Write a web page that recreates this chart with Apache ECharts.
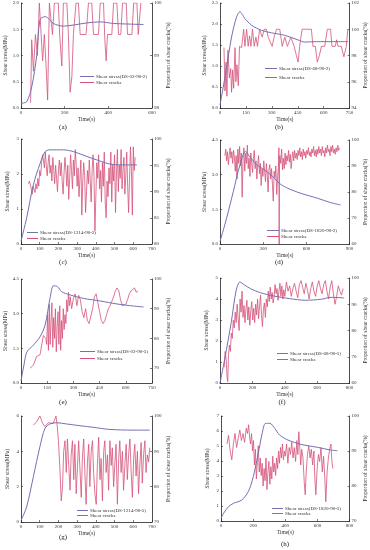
<!DOCTYPE html>
<html><head><meta charset="utf-8">
<script src="https://cdn.jsdelivr.net/npm/echarts@6/dist/echarts.min.js"></script>
<style>html,body{margin:0;padding:0;background:#fff}#c{width:370px;height:550px}</style>
</head><body><div id="c"></div>
<script>
// ---------- DATA ----------
const stressNames = ['Shear stress(DS-02-90-2)','Shear stress(DS-68-90-2)','Shear stress(DS-1214-90-2)','Shear stress(DS-1820-90-2)','Shear stress(DS-02-90-5)','Shear stress(DS-68-90-5)','Shear stress(DS-1214-90-5)','Shear stress(DS-1820-90-5)'];
const crackName = 'Shear cracks';
const captions = ['(a)','(b)','(c)','(d)','(e)','(f)','(g)','(h)'];

const stressA = [[0,0.09],[26,0.12],[49,0.4],[72,1.0],[87,1.68],[110,1.74],[125,1.71],[148,1.61],[194,1.56],[240,1.58],[300,1.62],[363,1.64],[424,1.61],[485,1.6],[561,1.59]];
const cracksA = [[44,98.1],[49,99.3],[57,98.7],[66,99.4],[75,99.0],[84,100],[93,100],[99,98.9],[107,99.4],[115,98.8],[122,98.15],[130,100],[138,100],[144,99.4],[153,100],[171,100],[177,99.4],[187,98.8],[194,100],[210,100],[217,99.4],[225,98.3],[233,98.6],[240,99.4],[252,100],[263,100],[271,99.4],[298,99.4],[309,100],[324,100],[332,99.4],[355,99.4],[363,100],[378,100],[384,99.3],[390,98.9],[396,99.4],[416,99.4],[424,100],[439,100],[447,99.4],[457,99.4],[465,100],[482,100],[488,99.4],[508,99.4],[516,100],[531,100],[537,99.4],[543,99.4],[549,100]];

const stressB = [[0,0.07],[29,0.74],[67,1.69],[96,2.17],[115,2.29],[144,2.13],[183,1.97],[240,1.85],[298,1.79],[375,1.73],[452,1.62],[490,1.57],[560,1.58],[740,1.58]];
const cracksB = [[23,98.6],[29,95.3],[35,97.5],[40,94.9],[46,98.4],[54,96.3],[62,97.0],[67,95.2],[73,96.9],[79,95.5],[87,98.6],[92,96.0],[98,97.3],[106,95.7],[113,98.7],[125,98.6],[137,100],[144,98.7],[154,100],[163,98.7],[171,99.5],[179,98.7],[188,100],[198,98.7],[208,99.4],[217,98.7],[229,100],[244,99.4],[256,100],[269,100],[279,99.4],[290,99.4],[302,98.7],[313,99.4],[327,100],[346,100],[360,98.7],[375,99.4],[390,98.7],[410,99.4],[429,98.7],[442,98.0],[452,97.5],[461,98.7],[475,100],[500,100],[529,100],[538,98.7],[552,98.7],[563,97.5],[575,98.0],[587,98.7],[606,98.7],[621,100],[640,100],[648,98.7],[667,98.7],[675,99.2],[683,98.7],[702,98.7],[717,97.9],[731,98.7],[740,100]];

const stressC = [[0,0.08],[30,0.74],[66,1.69],[102,2.3],[129,2.64],[155,2.69],[227,2.69],[280,2.64],[352,2.5],[423,2.37],[477,2.28],[530,2.26],[620,2.26]];
const cracksC = [[40,91.5],[45,92],[50,91.3],[55,90.5],[60,89.5],[65,91],[70,90.8],[75,89.8],[80,91.5],[85,90.5],[90,92.5],[95,91],[100,94],[105,93],[110,95.5],[115,97],[120,96],[125,94.5],[130,97.5],[135,95],[140,93],[145,95.5],[150,97],[155,93.5],[160,95],[165,92],[170,96.5],[175,94],[180,91.5],[185,95],[190,92.5],[195,90],[200,94],[205,96],[210,93],[215,95.5],[220,92],[225,89.5],[230,93.5],[235,96.5],[240,94],[245,91],[250,95],[255,88.5],[260,92.5],[265,97],[270,94],[275,90.5],[280,96],[285,93],[290,98],[295,95],[300,91],[305,94.5],[310,89],[315,92.5],[320,96],[325,85.5],[330,92],[335,95.5],[340,93],[345,86],[350,90],[355,94],[360,91.5],[365,96],[370,92],[375,88],[380,94],[385,97],[390,93],[395,82.5],[400,89],[405,95.5],[410,92.5],[415,97],[420,90.5],[425,94],[430,88],[435,95.5],[440,91],[445,97.5],[450,88],[455,85],[460,92],[465,89],[470,94.5],[475,91.5],[480,97.5],[485,88],[490,95],[495,92],[500,97],[505,86],[510,93.5],[515,98],[520,90],[525,95],[530,92.5],[535,98],[540,90.5],[545,94],[550,96.5],[555,89.5],[560,93],[565,97.5],[570,91],[575,86],[580,92.5],[585,98.5],[590,94],[595,85.5],[600,98.5],[605,94],[610,96.5]];

const stressD = [[0,0.11],[46,1.12],[92,2.26],[138,3.41],[177,4.01],[207,3.77],[253,3.44],[310,3.2],[367,2.91],[413,2.62],[471,2.41],[563,2.19],[677,1.98],[769,1.79],[838,1.69]];
const cracksD = [[34,94],[40,96.5],[46,92],[52,95.5],[58,90.5],[64,94],[70,97],[76,93],[82,95.5],[88,91],[94,96],[100,93.5],[106,88],[112,94],[118,85],[124,96.5],[130,91],[136,97.5],[142,90],[148,95],[154,78],[160,93],[166,97],[172,88],[178,95],[184,91],[190,98],[196,89],[202,93],[208,86],[214,95],[220,91],[226,87.5],[232,93],[238,96],[244,89],[250,92],[256,85],[262,90.5],[268,94],[274,87],[280,91],[286,82.5],[292,89],[298,86],[304,92],[310,88],[316,84],[322,91],[328,87],[334,80],[340,88.5],[346,90.5],[352,85],[358,89],[364,83],[370,76.5],[376,88],[382,85.5],[388,90],[394,79],[400,86],[406,89.5],[409,97],[411,60],[413,93],[416,94],[422,91],[428,96.5],[434,88.5],[440,93],[446,89],[452,95],[458,90.5],[464,94],[470,92],[476,96],[482,91.5],[488,94.5],[494,89],[500,93],[506,95.5],[512,92],[518,96],[524,93],[530,95],[536,92.5],[542,96],[548,94],[554,97],[560,93.5],[566,95.5],[572,92.5],[578,96.5],[584,94],[590,95.5],[596,93],[602,96],[608,94.5],[614,97],[620,94],[626,95.5],[632,93.5],[638,96.5],[644,95],[650,97.5],[656,94],[662,96],[668,93.5],[674,96.5],[680,94.5],[686,97.5],[692,95],[698,96.5],[704,94],[710,97.5],[716,95],[722,96],[728,93.5],[734,97],[740,95],[746,98],[752,95.5],[758,96.5],[764,94],[770,97.5],[776,95.5],[782,98],[788,95],[794,96.5],[800,94.5],[806,97],[812,95.5],[818,98],[824,96],[830,97]];

const stressE = [[0,0.09],[17,0.78],[33,1.33],[71,1.64],[109,2.0],[138,2.51],[166,3.66],[186,4.21],[209,4.17],[233,3.95],[281,3.81],[358,3.66],[453,3.55],[549,3.42],[645,3.33],[702,3.29]];
const cracksE = [[52,70],[71,71],[90,74],[109,74.5],[128,81],[142,80],[147,78],[152,88],[157,76],[162,91.5],[167,78],[172,86],[177,92],[182,77],[187,87],[192,80],[197,90],[202,75.5],[207,84],[212,89],[217,78],[222,91],[227,76],[232,86],[237,80],[242,90],[247,83],[252,88],[257,85],[262,93],[267,89],[272,95.5],[277,91],[282,94],[290,90],[300,93.5],[310,95],[320,91],[330,94.5],[340,93],[350,89],[360,87],[370,90],[380,86],[390,85],[400,85.5],[410,90],[420,94],[430,95],[440,92],[450,89],[460,86],[470,85],[480,86],[490,88],[500,90],[510,91],[520,92.5],[530,94],[540,96],[550,97],[560,96],[570,93],[580,91],[590,90.5],[600,91.5],[610,93],[620,95],[630,96],[640,96.5],[650,97],[660,95.5],[670,96]];

const stressF = [[0,0.0],[30,1.18],[70,2.92],[100,4.42],[123,4.81],[149,4.68],[189,4.49],[249,4.3],[328,4.15],[428,4.02],[527,3.94],[627,3.99],[687,4.08],[766,4.05]];
const cracksF = [[26,66],[32,72],[38,69],[44,62],[48,60.5],[52,70],[58,74.5],[64,72],[70,79],[76,77],[82,84],[88,81],[94,87],[100,83],[106,90],[112,84.5],[118,80],[124,92],[130,87],[136,95],[142,85],[148,89.5],[154,83],[160,88],[166,91.5],[172,84],[178,89],[184,82],[190,87.5],[196,91],[202,84],[208,88.5],[214,83],[220,90],[226,86],[232,92],[238,84.5],[244,89],[250,93.5],[256,86],[262,81.5],[268,88],[274,90.5],[280,85],[286,92],[292,89],[298,95],[304,91],[310,96.5],[316,92],[322,94.5],[328,90.5],[334,93],[340,97.5],[346,94],[352,96],[358,91.5],[364,95],[370,98],[376,93],[382,97],[388,92],[394,95.5],[400,93],[410,98.5],[420,95],[430,97],[440,93],[450,96],[460,98],[470,95],[480,92.5],[490,97.5],[500,99],[510,96.5],[520,94],[530,98],[540,95.5],[550,92],[560,96],[570,98.5],[580,95],[590,93],[600,97],[610,99],[620,96],[630,94],[640,97.5],[650,99],[660,95],[670,92],[680,96.5],[690,99],[700,94],[710,90],[720,93],[730,97],[740,95],[750,93.5],[760,96]];

const stressG = [[0,0.09],[30,0.85],[66,2.56],[101,4.26],[128,5.3],[155,5.55],[190,5.62],[243,5.55],[315,5.45],[386,5.36],[474,5.24],[599,5.2],[688,5.2]];
const cracksG = [[66,97.4],[84,98.4],[101,100],[116,97.9],[128,97],[146,98.1],[172,97.9],[187,100],[194,97],[200,93],[208,85],[215,76],[222,80],[228,90],[235,93],[242,84],[248,93.5],[255,86],[262,79],[268,89],[275,93],[282,82],[288,92],[295,78],[302,86],[308,93],[315,85],[322,77],[328,88],[335,93.5],[342,83],[348,75],[355,87],[362,92],[368,80],[375,90],[382,93],[388,84],[395,78],[402,75],[408,86],[415,94],[422,82],[428,88],[435,76],[442,90],[448,93],[455,84],[462,89],[468,79],[475,93],[482,86],[488,91],[495,80],[502,87],[508,92],[515,75],[522,88],[528,93],[535,84],[542,90],[548,79],[555,86],[562,92],[568,82],[575,89],[582,93.5],[588,85],[595,77],[602,88],[608,92],[615,83],[622,90],[628,78],[635,86],[642,92.5],[648,81],[655,89],[662,93],[668,84],[675,89],[682,87],[688,91]];

const stressH = [[0,0.18],[16,0.51],[47,0.96],[78,1.18],[129,1.4],[170,1.96],[201,2.96],[232,4.51],[256,5.84],[277,6.51],[304,6.51],[334,6.18],[365,5.73],[416,5.4],[498,5.11],[601,4.91],[683,4.73],[724,4.69]];
const cracksH = [[37,92],[47,94.5],[57,90],[67,87.5],[77,92],[87,95],[97,91],[107,93.5],[117,96],[127,93],[137,95],[147,92.5],[157,96.5],[165,95],[172,97.5],[178,94],[184,92],[190,95],[196,90],[202,93],[208,86],[214,90.5],[220,82],[226,87],[232,91.5],[238,84],[244,88],[250,83],[256,86.5],[262,80],[268,85],[274,81.5],[280,88],[286,79],[292,84],[298,87],[304,80.5],[310,85.5],[316,82],[322,88.5],[328,84],[334,86.5],[340,83],[346,88],[352,85],[358,90],[364,86.5],[370,91],[376,88],[382,92],[388,87.5],[394,90],[400,88.5],[408,92],[416,86.5],[424,91],[432,89],[440,92.5],[448,88],[456,91],[464,87],[472,93],[478,89],[484,95.5],[490,91],[496,86],[502,90.5],[510,88],[518,81],[524,77.5],[530,84],[538,89],[546,91.5],[554,88],[562,90.5],[570,86],[578,90],[584,82],[590,77.5],[598,85],[606,89],[614,87],[622,91],[630,84],[638,88.5],[646,82],[652,75.5],[660,84],[668,88],[676,90.5],[684,92],[690,87],[696,85]];

const stressData = [stressA,stressB,stressC,stressD,stressE,stressF,stressG,stressH];
const crackData = [cracksA,cracksB,cracksC,cracksD,cracksE,cracksF,cracksG,cracksH];

// ---------- LAYOUT / AXES ----------
const P = [
 {g:[21,3,131,105],  xMax:600, xInt:200, yMax:2,   yInt:0.5, dec:1, rMin:98, rMax:100, rInt:1,  lg:[80,74,1,14],  cap:[63,127]},
 {g:[220,3,130,105], xMax:750, xInt:150, yMax:2.5, yInt:0.5, dec:1, rMin:94, rMax:102, rInt:2,  lg:[265,66,4,12], cap:[279,127]},
 {g:[21,139,131,105],xMax:700, xInt:100, yMax:3,   yInt:1,   dec:0, rMin:80, rMax:100, rInt:5,  lg:[27,230,1,11], cap:[63,262]},
 {g:[220,140,131,104],xMax:900,xInt:300, yMax:4.5, yInt:1.5, dec:1, rMin:60, rMax:100, rInt:10, lg:[267,228,1,12], cap:[279,262]},
 {g:[21,279,131,104],xMax:750, xInt:150, yMax:4.5, yInt:1.5, dec:1, rMin:65, rMax:100, rInt:null, lg:[80,349,2,15], cap:[63,402]},
 {g:[220,278,134,105],xMax:800,xInt:200, yMax:5,   yInt:1,   dec:0, rMin:60, rMax:100, rInt:10, lg:[277,351,1,11], cap:[282,402]},
 {g:[21,416,131,106],xMax:700, xInt:100, yMax:6,   yInt:2,   dec:0, rMin:70, rMax:100, rInt:10, lg:[77,508,0,11], cap:[63,537]},
 {g:[221,416,130,105],xMax:800,xInt:200, yMax:7,   yInt:1,   dec:0, rMin:70, rMax:100, rInt:10, lg:[272,506,0,11], cap:[285,544]}
];

const FONT = 'Liberation Serif';
const TXT = '#333';
const STRESS_C = '#7470b2';
const CRACK_C = '#d45279';
const axLine = {show:true, lineStyle:{color:'#222', width:0.8}};
const axTick = {show:true, inside:true, length:2, lineStyle:{color:'#222', width:0.6}};
const lbl = (extra) => Object.assign({fontSize:5, fontFamily:FONT, color:TXT, margin:2}, extra||{});
const nameStyle = {fontSize:5.5, fontFamily:FONT, color:TXT};

const grid=[], xAxis=[], yAxis=[], series=[], legend=[], graphic=[];
P.forEach((p,i)=>{
  grid.push({left:p.g[0], top:p.g[1], width:p.g[2], height:p.g[3], containLabel:false});
  xAxis.push({type:'value', gridIndex:i, min:0, max:p.xMax, interval:p.xInt,
    name:'Time(s)', nameLocation:'middle', nameGap:9, nameTextStyle:nameStyle,
    axisLine:axLine, axisTick:axTick, splitLine:{show:false}, axisLabel:lbl()});
  yAxis.push({type:'value', gridIndex:i, position:'left', min:0, max:p.yMax, interval:p.yInt,
    name:'Shear stress(MPa)', nameLocation:'middle', nameGap:10, nameRotate:90, nameTextStyle:nameStyle,
    axisLine:axLine, axisTick:axTick, splitLine:{show:false},
    axisLabel:lbl({formatter:v=>v.toFixed(p.dec)})});
  const r = {type:'value', gridIndex:i, position:'right', min:p.rMin, max:p.rMax,
    name:'Proportion of shear cracks(%)', nameLocation:'middle', nameGap:11, nameRotate:90, nameTextStyle:nameStyle,
    axisLine:axLine, axisTick:axTick, splitLine:{show:false},
    axisLabel:lbl({formatter:v=> (v%10===0 || p.rInt && p.rInt<10) ? String(v) : ''})};
  if (p.rInt) r.interval = p.rInt; else { r.splitNumber = 3; r.axisLabel.showMinLabel = false; }
  yAxis.push(r);
  series.push({type:'line', name:crackName, xAxisIndex:i, yAxisIndex:2*i+1, data:crackData[i],
    symbol:'none', lineStyle:{color:CRACK_C, width:0.8}, itemStyle:{color:CRACK_C}, z:2});
  series.push({type:'line', name:stressNames[i], xAxisIndex:i, yAxisIndex:2*i, data:stressData[i],
    symbol:'none', smooth:0.3, lineStyle:{color:STRESS_C, width:1}, itemStyle:{color:STRESS_C}, z:3});
  legend.push({orient:'vertical', left:p.lg[0], top:p.lg[1], itemGap:p.lg[2], itemWidth:p.lg[3], itemHeight:1,
    icon:'rect', padding:0, data:[stressNames[i], crackName],
    textStyle:{fontSize:5, fontFamily:FONT, color:TXT, padding:[0,0,0,-3]}});
  graphic.push({type:'text', x:p.cap[0], y:p.cap[1],
    style:{text:captions[i], fontSize:7, fontFamily:FONT, fill:'#222', align:'center', verticalAlign:'middle', textAlign:'center', textVerticalAlign:'middle'}});
});

const chart = echarts.init(document.getElementById('c'), null, {renderer:'canvas'});
chart.setOption({animation:false, backgroundColor:'#fff', grid, xAxis, yAxis, series, legend, graphic});
</script></body></html>
